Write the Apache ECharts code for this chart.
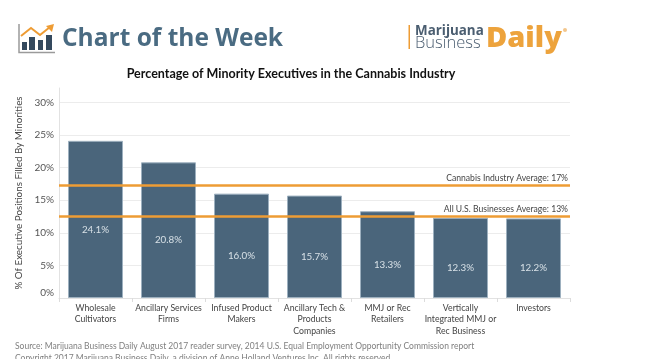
<!DOCTYPE html>
<html>
<head>
<meta charset="utf-8">
<style>
html,body{margin:0;padding:0;background:#fff}
#chart{width:645px;height:359px}
</style>
<script src="https://cdn.jsdelivr.net/npm/echarts@6/dist/echarts.min.js"></script>
</head>
<body>
<div id="chart"></div>
<script>
var categories = ['Wholesale\nCultivators', 'Ancillary Services\nFirms', 'Infused Product\nMakers',
	'Ancillary Tech &\nProducts\nCompanies', 'MMJ or Rec\nRetailers', 'Vertically\nIntegrated MMJ or\nRec Business', 'Investors'];
var values = [24.1, 20.8, 16.0, 15.7, 13.3, 12.3, 12.2];
var refValues = [17.3, 12.6];
var refLabels = ['Cannabis Industry Average: 17%', 'All U.S. Businesses Average: 13%'];

var font = 'Lato';
var slate = '#4a657b';
var orange = '#ee9c34';

var myChart = echarts.init(document.getElementById('chart'));
var option = {
	backgroundColor: '#fff',
	animation: false,
	textStyle: { fontFamily: font },
	grid: { left: 59, right: 75, top: 88, bottom: 61 },
	xAxis: {
		type: 'category',
		data: categories,
		axisLine: { lineStyle: { color: '#e2e2e2' } },
		axisTick: { show: true, length: 4, lineStyle: { color: '#dcdcdc' } },
		axisLabel: { interval: 0, color: '#444', fontSize: 8.7, lineHeight: 11.5, margin: 4 }
	},
	yAxis: {
		type: 'value',
		min: 0,
		max: 32.2,
		interval: 5,
		name: '% Of Executive Positions Filled By Minorities',
		nameLocation: 'middle',
		nameGap: 20,
		nameTextStyle: { color: '#444', fontSize: 9.8 },
		axisLine: { show: true, lineStyle: { color: '#e2e2e2' } },
		axisTick: { show: false },
		axisLabel: {
			color: '#555',
			fontSize: 10,
			margin: 5,
			showMaxLabel: false,
			verticalAlignMinLabel: 'bottom',
			formatter: function (v) { return v + '%'; }
		},
		splitLine: { lineStyle: { color: '#ececec' }, showMaxLine: false }
	},
	series: [{
		type: 'bar',
		data: values,
		barWidth: 55,
		itemStyle: { color: slate, borderColor: '#9db0bf', borderWidth: 1 },
		label: {
			show: true,
			position: 'inside',
			offset: [0, 10],
			color: '#d7e0e6',
			fontSize: 9.8,
			formatter: function (p) { return p.value.toFixed(1) + '%'; }
		},
		markLine: {
			silent: true,
			symbol: 'none',
			animation: false,
			lineStyle: { color: orange, width: 2.5, type: 'solid' },
			label: {
				position: 'insideEndTop',
				color: '#444',
				fontSize: 8.6,
				distance: [2, 2]
			},
			data: refValues.map(function (v, i) {
				return { yAxis: v, label: { formatter: refLabels[i] } };
			})
		}
	}],
	graphic: [
		// header icon
		{ type: 'polyline', shape: { points: [[19, 24], [19, 52.5], [55, 52.5]] }, style: { stroke: '#9a9a9a', lineWidth: 1.5, fill: null } },
		{ type: 'rect', shape: { x: 22, y: 42, width: 5, height: 8 }, style: { fill: '#34495e' } },
		{ type: 'rect', shape: { x: 29, y: 37, width: 6, height: 13 }, style: { fill: '#34495e' } },
		{ type: 'rect', shape: { x: 38, y: 40, width: 5, height: 10 }, style: { fill: '#34495e' } },
		{ type: 'rect', shape: { x: 46, y: 35, width: 6, height: 15 }, style: { fill: '#34495e' } },
		{ type: 'polyline', shape: { points: [[21, 36], [31, 28], [40, 35], [50, 27]] }, style: { stroke: orange, lineWidth: 2, fill: null } },
		{ type: 'polygon', shape: { points: [[46, 26], [54, 24], [52, 32]] }, style: { fill: orange } },
		{ type: 'text', x: 62, y: 39, style: { text: 'Chart of the Week', font: 'bold 24.5px "Open Sans"', fill: '#4a6b82', textVerticalAlign: 'middle' } },
		// logo
		{ type: 'rect', shape: { x: 408.5, y: 25, width: 1.5, height: 24 }, style: { fill: orange } },
		{ type: 'text', x: 415, y: 31, style: { text: 'Marijuana', font: 'bold 13.4px "Open Sans"', fill: '#4a5d70', textVerticalAlign: 'middle' } },
		{ type: 'text', x: 415, y: 43, style: { text: 'Business', font: '300 16.5px "Open Sans"', fill: '#4a5d70', textVerticalAlign: 'middle' } },
		{ type: 'text', x: 486, y: 39, style: { text: 'Daily', font: '900 29px "Open Sans"', fill: '#eda33c', textVerticalAlign: 'middle' } },
		{ type: 'circle', shape: { cx: 565, cy: 30, r: 2 }, style: { fill: '#f3c68c' } },
		// title and footer
		{ type: 'text', x: 291, y: 74, style: { text: 'Percentage of Minority Executives in the Cannabis Industry', font: 'bold 12.5px Lato', fill: '#111', textAlign: 'center', textVerticalAlign: 'middle' } },
		{ type: 'text', x: 15, y: 346, style: { text: 'Source: Marijuana Business Daily August 2017 reader survey, 2014 U.S. Equal Employment Opportunity Commission report', font: '8.5px Lato', fill: '#7f7f7f', textVerticalAlign: 'middle' } },
		{ type: 'text', x: 15, y: 358, style: { text: 'Copyright 2017 Marijuana Business Daily, a division of Anne Holland Ventures Inc. All rights reserved.', font: '8.5px Lato', fill: '#7f7f7f', textVerticalAlign: 'middle' } }
	]
};
myChart.setOption(option);
</script>
</body>
</html>
